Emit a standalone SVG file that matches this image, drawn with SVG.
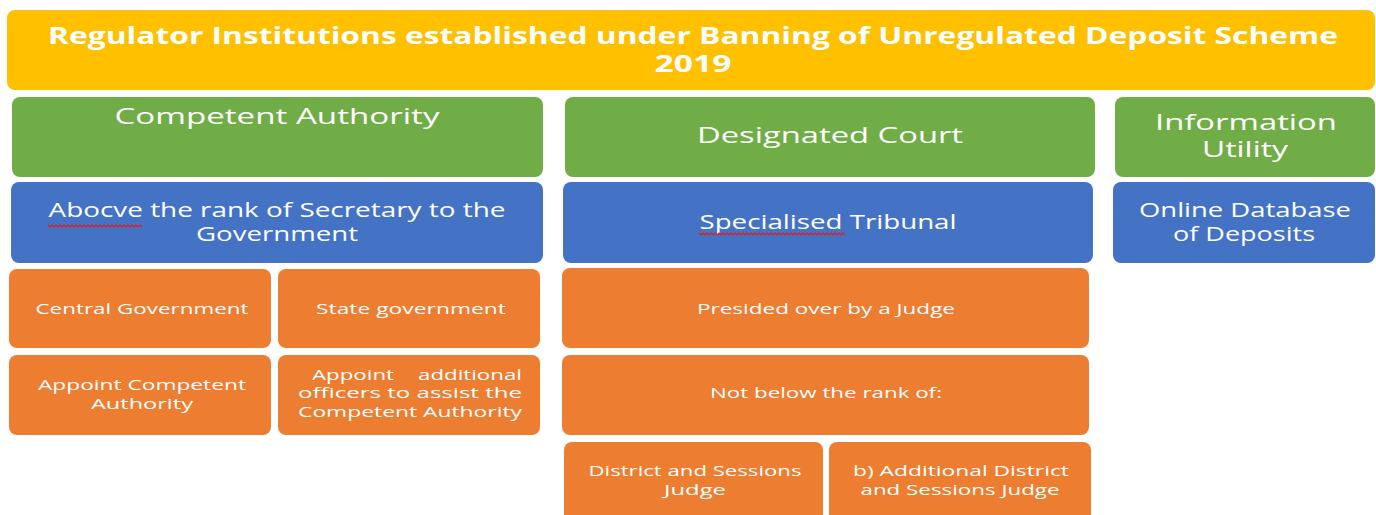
<svg xmlns="http://www.w3.org/2000/svg" width="1376" height="515" viewBox="0 0 1376 515">
  <style>
    .title { fill: #FFC000; }
    .head { fill: #70AD47; }
    .sub { fill: #4472C4; }
    .item { fill: #ED7D31; }
    text { font-family: "Open Sans", "Liberation Sans", sans-serif; fill: #ffffff; text-anchor: middle; }
    .t0 { font-size: 23px; font-weight: bold; }
    .t1 { font-size: 22px; }
    .t2 { font-size: 19.5px; }
    .t3 { font-size: 15px; }
    .l { text-anchor: start; }
    .r { text-anchor: end; }
    .squiggle { fill: none; stroke: #e0201b; stroke-width: 1.2; }
  </style>
  <rect width="1376" height="515" fill="#ffffff"/>

  <!-- banner -->
  <g id="banner">
    <rect class="title" x="7" y="10" width="1368" height="80" rx="8"/>
    <text class="t0" x="693" y="44" textLength="1290" lengthAdjust="spacingAndGlyphs">Regulator Institutions established under Banning of Unregulated Deposit Scheme</text>
    <text class="t0" x="693" y="72" textLength="77" lengthAdjust="spacingAndGlyphs">2019</text>
  </g>

  <!-- column 1: Competent Authority -->
  <g id="competent-authority">
    <rect class="head" x="12" y="97" width="531" height="80" rx="8"/>
    <text class="t1" x="277" y="124" textLength="325" lengthAdjust="spacingAndGlyphs">Competent Authority</text>
  </g>
  <g id="secretary-rank">
    <rect class="sub" x="11" y="182" width="532" height="81" rx="8"/>
    <text class="t2" x="277" y="217" textLength="457" lengthAdjust="spacingAndGlyphs">Abocve the rank of Secretary to the</text>
    <text class="t2" x="277" y="241" textLength="162" lengthAdjust="spacingAndGlyphs">Government</text>
    <path class="squiggle" d="M48 225 l2 2 l2 -2 l2 2 l2 -2 l2 2 l2 -2 l2 2 l2 -2 l2 2 l2 -2 l2 2 l2 -2 l2 2 l2 -2 l2 2 l2 -2 l2 2 l2 -2 l2 2 l2 -2 l2 2 l2 -2 l2 2 l2 -2 l2 2 l2 -2 l2 2 l2 -2 l2 2 l2 -2 l2 2 l2 -2 l2 2 l2 -2 l2 2 l2 -2 l2 2 l2 -2 l2 2 l2 -2 l2 2 l2 -2 l2 2 l2 -2 l2 2 l2 -2 l2 2"/>
  </g>
  <g id="central-government">
    <rect class="item" x="9" y="269" width="262" height="79" rx="8"/>
    <text class="t3" x="142" y="314" textLength="213" lengthAdjust="spacingAndGlyphs">Central Government</text>
  </g>
  <g id="state-government">
    <rect class="item" x="278" y="269" width="262" height="79" rx="8"/>
    <text class="t3" x="411" y="314" textLength="190" lengthAdjust="spacingAndGlyphs">State government</text>
  </g>
  <g id="appoint-authority">
    <rect class="item" x="9" y="355" width="262" height="80" rx="8"/>
    <text class="t3" x="142" y="390" textLength="208" lengthAdjust="spacingAndGlyphs">Appoint Competent</text>
    <text class="t3" x="142" y="409" textLength="102" lengthAdjust="spacingAndGlyphs">Authority</text>
  </g>
  <g id="appoint-officers">
    <rect class="item" x="278" y="355" width="262" height="80" rx="8"/>
    <!-- justified paragraph: first line pinned to both edges -->
    <text class="t3 l" x="312" y="380" textLength="82" lengthAdjust="spacingAndGlyphs">Appoint</text>
    <text class="t3 r" x="522" y="380" textLength="104" lengthAdjust="spacingAndGlyphs">additional</text>
    <text class="t3" x="410" y="398" textLength="224" lengthAdjust="spacingAndGlyphs">officers  to  assist  the</text>
    <text class="t3" x="410" y="417" textLength="224" lengthAdjust="spacingAndGlyphs">Competent Authority</text>
  </g>

  <!-- column 2: Designated Court -->
  <g id="designated-court">
    <rect class="head" x="565" y="97" width="530" height="80" rx="8"/>
    <text class="t1" x="830" y="143" textLength="266" lengthAdjust="spacingAndGlyphs">Designated Court</text>
  </g>
  <g id="specialised-tribunal">
    <rect class="sub" x="563" y="182" width="530" height="81" rx="8"/>
    <text class="t2" x="828" y="229" textLength="257" lengthAdjust="spacingAndGlyphs">Specialised Tribunal</text>
    <path class="squiggle" d="M699 233 l2 2 l2 -2 l2 2 l2 -2 l2 2 l2 -2 l2 2 l2 -2 l2 2 l2 -2 l2 2 l2 -2 l2 2 l2 -2 l2 2 l2 -2 l2 2 l2 -2 l2 2 l2 -2 l2 2 l2 -2 l2 2 l2 -2 l2 2 l2 -2 l2 2 l2 -2 l2 2 l2 -2 l2 2 l2 -2 l2 2 l2 -2 l2 2 l2 -2 l2 2 l2 -2 l2 2 l2 -2 l2 2 l2 -2 l2 2 l2 -2 l2 2 l2 -2 l2 2 l2 -2 l2 2 l2 -2 l2 2 l2 -2 l2 2 l2 -2 l2 2 l2 -2 l2 2 l2 -2 l2 2 l2 -2 l2 2 l2 -2 l2 2 l2 -2 l2 2 l2 -2 l2 2 l2 -2 l2 2 l2 -2 l2 2 l2 -2 l2 2"/>
  </g>
  <g id="presided-judge">
    <rect class="item" x="562" y="268" width="527" height="80" rx="8"/>
    <text class="t3" x="826" y="314" textLength="258" lengthAdjust="spacingAndGlyphs">Presided over by a Judge</text>
  </g>
  <g id="minimum-rank">
    <rect class="item" x="562" y="355" width="527" height="80" rx="8"/>
    <text class="t3" x="826" y="398" textLength="232" lengthAdjust="spacingAndGlyphs">Not below the rank of:</text>
  </g>
  <g id="district-judge">
    <rect class="item" x="564" y="442" width="259" height="90" rx="8"/>
    <text class="t3" x="695" y="476" textLength="213" lengthAdjust="spacingAndGlyphs">District and Sessions</text>
    <text class="t3" x="695" y="495" textLength="62" lengthAdjust="spacingAndGlyphs">Judge</text>
  </g>
  <g id="additional-district-judge">
    <rect class="item" x="829" y="442" width="262" height="90" rx="8"/>
    <text class="t3" x="961" y="476" textLength="216" lengthAdjust="spacingAndGlyphs">b) Additional District</text>
    <text class="t3" x="960" y="495" textLength="199" lengthAdjust="spacingAndGlyphs">and Sessions Judge</text>
  </g>

  <!-- column 3: Information Utility -->
  <g id="information-utility">
    <rect class="head" x="1115" y="97" width="260" height="80" rx="8"/>
    <text class="t1" x="1246" y="130" textLength="182" lengthAdjust="spacingAndGlyphs">Information</text>
    <text class="t1" x="1245" y="157" textLength="86" lengthAdjust="spacingAndGlyphs">Utility</text>
  </g>
  <g id="online-database">
    <rect class="sub" x="1113" y="182" width="262" height="81" rx="8"/>
    <text class="t2" x="1245" y="217" textLength="212" lengthAdjust="spacingAndGlyphs">Online Database</text>
    <text class="t2" x="1244" y="241" textLength="142" lengthAdjust="spacingAndGlyphs">of Deposits</text>
  </g>

  <!-- no connectors in this layout -->
  <g id="connectors"/>
</svg>
